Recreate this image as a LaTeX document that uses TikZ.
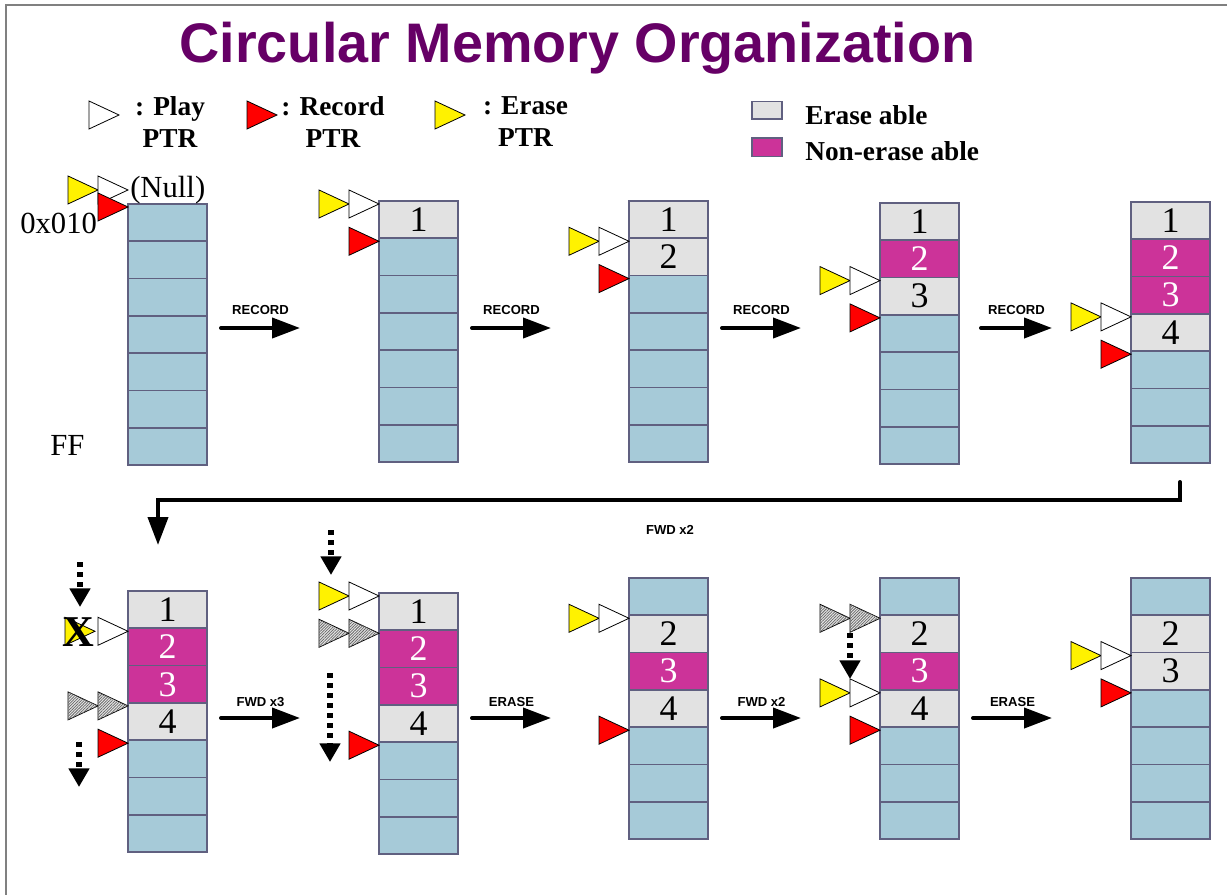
\documentclass[tikz,border=0pt]{standalone}
\usepackage{fontspec}
\setmainfont{Liberation Serif}
\setsansfont{Liberation Sans}
\usetikzlibrary{arrows.meta,patterns.meta}

\definecolor{cellblue}{RGB}{166,202,216}
\definecolor{cellgray}{RGB}{226,226,226}
\definecolor{cellmag}{RGB}{204,51,153}
\definecolor{cellline}{RGB}{96,96,128}
\definecolor{titlepurple}{RGB}{102,0,102}
\definecolor{framegray}{RGB}{128,128,128}

\tikzset{
  cell/.style={draw=cellline, line width=1.2pt, minimum width=59.25pt, minimum height=28pt,
    inner sep=0pt, outer sep=0pt, font=\fontsize{27}{30}\selectfont},
  free/.style={fill=cellblue},
  era/.style={fill=cellgray},
  non/.style={fill=cellmag, text=white},
  ptrline/.style={draw=black, line width=0.6pt},
  playptr/.style={fill=white},
  recptr/.style={fill=red},
  eraseptr/.style={fill=yellow},
  oldptr/.style={fill=gray!20, postaction={pattern={Lines[angle=45,distance=1.5pt,line width=0.55pt]}, pattern color=black!60}},
  bigarrow/.style={line width=3pt, line cap=round, -{Triangle[length=21pt,width=15pt]}},
  dotarrow/.style={line width=4pt, dash pattern=on 4pt off 3.5pt, -{Triangle[length=14pt,width=15pt]}},
  oplabel/.style={font=\sffamily\bfseries\fontsize{9.8}{11}\selectfont, inner sep=0pt},
  bigtext/.style={font=\fontsize{23}{26}\selectfont, inner sep=0pt},
  legtext/.style={font=\bfseries\fontsize{20.5}{24}\selectfont, inner sep=0pt, align=center}
}

\newcommand\memcol[4]{%
  \foreach \kind/\txt [count=\i] in {#4}
    \node[cell,\kind] (#1-\i) at ({#2+39.5},{#3+(\i-0.5)*37.3}) {\txt};
}
\newcommand\ptr[3][0]{%
  \draw[ptrline,#2] ([shift={(-#1,3)}]#3) -- ++(-30,-14) -- ++(0,28) -- cycle;
}

\begin{document}
\begin{tikzpicture}[x={(0.75pt,0)}, y={(0,-0.75pt)}]
  \useasboundingbox (0,0) rectangle (1227,895);
  \draw[framegray, line width=1.5pt] (5.5,895) -- (5.5,5.5) -- (1227,5.5);

  \node[font=\sffamily\bfseries\fontsize{41.8}{48}\selectfont, text=titlepurple, anchor=base, inner sep=0pt]
    (title) at (577.5,63) {Circular Memory Organization};

  \coordinate (key-play) at (119,112);
  \coordinate (key-rec) at (277,112);
  \coordinate (key-erase) at (465,112);
  \ptr{playptr}{key-play}
  \ptr{recptr}{key-rec}
  \ptr{eraseptr}{key-erase}
  \node[legtext, anchor=north] (key-play-text) at (170,96) {: Play\\PTR};
  \node[legtext, anchor=north] (key-rec-text) at (333,96) {: Record\\PTR};
  \node[legtext, anchor=north] (key-erase-text) at (525.5,96) {: Erase\\PTR};
  \node[cell, era, line width=1pt, minimum width=22.5pt, minimum height=13pt] (key-era) at (767,110.5) {};
  \node[cell, non, line width=1pt, minimum width=22.5pt, minimum height=14pt] (key-non) at (767,147.5) {};
  \node[legtext, anchor=base west] (key-era-text) at (805,125) {Erase able};
  \node[legtext, anchor=base west] (key-non-text) at (805,161) {Non-erase able};

  \memcol{c1}{128}{204}{free/{},free/{},free/{},free/{},free/{},free/{},free/{}}
  \memcol{c2}{379}{201}{era/1,free/{},free/{},free/{},free/{},free/{},free/{}}
  \memcol{c3}{629}{201}{era/1,era/2,free/{},free/{},free/{},free/{},free/{}}
  \memcol{c4}{880}{203}{era/1,non/2,era/3,free/{},free/{},free/{},free/{}}
  \memcol{c5}{1131}{202}{era/1,non/2,non/3,era/4,free/{},free/{},free/{}}

  \memcol{d1}{128}{591}{era/1,non/2,non/3,era/4,free/{},free/{},free/{}}
  \memcol{d2}{379}{593}{era/1,non/2,non/3,era/4,free/{},free/{},free/{}}
  \memcol{d3}{629}{578}{free/{},era/2,non/3,era/4,free/{},free/{},free/{}}
  \memcol{d4}{880}{578}{free/{},era/2,non/3,era/4,free/{},free/{},free/{}}
  \memcol{d5}{1131}{578}{free/{},era/2,era/3,free/{},free/{},free/{},free/{}}

  \node[bigtext, anchor=base west] (null) at (130,197) {(Null)};
  \node[bigtext, anchor=base west] (start) at (20,233) {0x010};
  \node[bigtext, anchor=base west] (end) at (50,455) {FF};

  \coordinate (c1-top) at ([shift={(0,-17)}]c1-1.north west);
  \ptr[30]{eraseptr}{c1-top}
  \ptr{playptr}{c1-top}
  \ptr{recptr}{c1-1.north west}
  \foreach \c/\p/\r in {c2/1/2, c3/2/3, c4/3/4, c5/4/5} {
    \ptr[30]{eraseptr}{\c-\p.north west}
    \ptr{playptr}{\c-\p.north west}
    \ptr{recptr}{\c-\r.north west}
  }

  \ptr[33]{eraseptr}{d1-2.north west}
  \node[font=\bfseries\fontsize{33}{36}\selectfont, inner sep=0pt] (cross) at ([shift={(-50,4)}]d1-2.north west) {X};
  \ptr{playptr}{d1-2.north west}
  \ptr[30]{oldptr}{d1-4.north west}
  \ptr{oldptr}{d1-4.north west}
  \ptr{recptr}{d1-5.north west}

  \ptr[30]{eraseptr}{d2-1.north west}
  \ptr{playptr}{d2-1.north west}
  \ptr[30]{oldptr}{d2-2.north west}
  \ptr{oldptr}{d2-2.north west}
  \ptr{recptr}{d2-5.north west}

  \ptr[30]{eraseptr}{d3-2.north west}
  \ptr{playptr}{d3-2.north west}
  \ptr{recptr}{d3-5.north west}

  \ptr[30]{oldptr}{d4-2.north west}
  \ptr{oldptr}{d4-2.north west}
  \ptr[30]{eraseptr}{d4-4.north west}
  \ptr{playptr}{d4-4.north west}
  \ptr{recptr}{d4-5.north west}

  \ptr[30]{eraseptr}{d5-3.north west}
  \ptr{playptr}{d5-3.north west}
  \ptr{recptr}{d5-4.north west}

  \coordinate (d1-up-a) at (80,562);   \coordinate (d1-up-b) at (80,607);
  \coordinate (d1-dn-a) at (79,742);   \coordinate (d1-dn-b) at (79,787);
  \coordinate (d2-up-a) at (331,530);  \coordinate (d2-up-b) at (331,575);
  \coordinate (d2-dn-a) at (330,673);  \coordinate (d2-dn-b) at (330,762);
  \coordinate (d4-dn-a) at (850,633);  \coordinate (d4-dn-b) at (850,679);
  \foreach \a in {d1-up,d1-dn,d2-up,d2-dn,d4-dn}
    \draw[dotarrow] (\a-a) -- (\a-b);

  \foreach \a/\b/\l [count=\k] in {221/300/RECORD, 472/551/RECORD, 722/801/RECORD, 981/1052/RECORD} {
    \coordinate (top\k-a) at (\a,328);
    \coordinate (top\k-b) at (\b,328);
    \draw[bigarrow] (top\k-a) -- node[oplabel, yshift=13.5pt] {\l} (top\k-b);
  }
  \foreach \a/\b/\l [count=\k] in {221/300/FWD x3, 472/551/ERASE, 722/801/FWD x2, 973/1052/ERASE} {
    \coordinate (bot\k-a) at (\a,718);
    \coordinate (bot\k-b) at (\b,718);
    \draw[bigarrow] (bot\k-a) -- node[oplabel, yshift=12pt] {\l} (bot\k-b);
  }

  \coordinate (wrap-a) at (1180,482);
  \coordinate (wrap-b) at (158,545);
  \draw[bigarrow] (wrap-a) -- ++(0,18) -| (wrap-b);

  \node[oplabel] (fwd-note) at (670,530) {FWD x2};
\end{tikzpicture}
\end{document}
